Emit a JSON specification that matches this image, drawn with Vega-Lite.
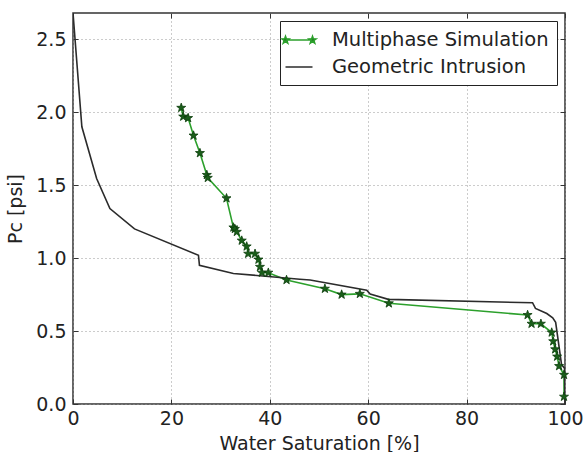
{
  "$schema": "https://vega.github.io/schema/vega-lite/v6.json",
  "autosize": "none",
  "width": 492,
  "height": 391,
  "padding": {"left": 73, "top": 13, "right": 20, "bottom": 48},
  "background": "white",
  "config": {
    "view": {"stroke": "#333", "strokeWidth": 1.5},
    "axis": {
      "labelFont": "DejaVu Sans", "labelFontSize": 19, "labelColor": "#222", "labelFlush": false,
      "titleFont": "DejaVu Sans", "titleFontSize": 19, "titleFontWeight": "normal", "titleColor": "#222",
      "domain": false, "tickColor": "#333", "tickSize": -5, "tickWidth": 1
    }
  },
  "data": {"values": [
    {"s": "Multiphase Simulation", "i": 1, "x": 22.0, "y": 2.03},
    {"s": "Multiphase Simulation", "i": 2, "x": 22.4, "y": 1.97},
    {"s": "Multiphase Simulation", "i": 3, "x": 23.4, "y": 1.96},
    {"s": "Multiphase Simulation", "i": 4, "x": 24.5, "y": 1.84},
    {"s": "Multiphase Simulation", "i": 5, "x": 25.8, "y": 1.72},
    {"s": "Multiphase Simulation", "i": 6, "x": 27.2, "y": 1.57},
    {"s": "Multiphase Simulation", "i": 7, "x": 27.4, "y": 1.55},
    {"s": "Multiphase Simulation", "i": 8, "x": 31.2, "y": 1.41},
    {"s": "Multiphase Simulation", "i": 9, "x": 32.6, "y": 1.21},
    {"s": "Multiphase Simulation", "i": 10, "x": 32.9, "y": 1.20},
    {"s": "Multiphase Simulation", "i": 11, "x": 33.3, "y": 1.18},
    {"s": "Multiphase Simulation", "i": 12, "x": 34.3, "y": 1.12},
    {"s": "Multiphase Simulation", "i": 13, "x": 35.3, "y": 1.08},
    {"s": "Multiphase Simulation", "i": 14, "x": 35.6, "y": 1.03},
    {"s": "Multiphase Simulation", "i": 15, "x": 37.0, "y": 1.03},
    {"s": "Multiphase Simulation", "i": 16, "x": 37.7, "y": 0.99},
    {"s": "Multiphase Simulation", "i": 17, "x": 38.0, "y": 0.94},
    {"s": "Multiphase Simulation", "i": 18, "x": 38.4, "y": 0.90},
    {"s": "Multiphase Simulation", "i": 19, "x": 39.7, "y": 0.90},
    {"s": "Multiphase Simulation", "i": 20, "x": 43.4, "y": 0.85},
    {"s": "Multiphase Simulation", "i": 21, "x": 51.2, "y": 0.79},
    {"s": "Multiphase Simulation", "i": 22, "x": 54.6, "y": 0.75},
    {"s": "Multiphase Simulation", "i": 23, "x": 58.3, "y": 0.755},
    {"s": "Multiphase Simulation", "i": 24, "x": 64.2, "y": 0.69},
    {"s": "Multiphase Simulation", "i": 25, "x": 92.4, "y": 0.61},
    {"s": "Multiphase Simulation", "i": 26, "x": 93.2, "y": 0.55},
    {"s": "Multiphase Simulation", "i": 27, "x": 95.1, "y": 0.55},
    {"s": "Multiphase Simulation", "i": 28, "x": 97.3, "y": 0.49},
    {"s": "Multiphase Simulation", "i": 29, "x": 97.6, "y": 0.43},
    {"s": "Multiphase Simulation", "i": 30, "x": 98.0, "y": 0.375},
    {"s": "Multiphase Simulation", "i": 31, "x": 98.4, "y": 0.325},
    {"s": "Multiphase Simulation", "i": 32, "x": 98.8, "y": 0.26},
    {"s": "Multiphase Simulation", "i": 33, "x": 99.8, "y": 0.20},
    {"s": "Multiphase Simulation", "i": 34, "x": 99.8, "y": 0.05},
    {"s": "Geometric Intrusion", "i": 1, "x": 0.0, "y": 2.68},
    {"s": "Geometric Intrusion", "i": 2, "x": 1.8, "y": 1.90},
    {"s": "Geometric Intrusion", "i": 3, "x": 4.8, "y": 1.545},
    {"s": "Geometric Intrusion", "i": 4, "x": 7.5, "y": 1.34},
    {"s": "Geometric Intrusion", "i": 5, "x": 12.5, "y": 1.20},
    {"s": "Geometric Intrusion", "i": 6, "x": 25.5, "y": 1.02},
    {"s": "Geometric Intrusion", "i": 7, "x": 25.7, "y": 0.95},
    {"s": "Geometric Intrusion", "i": 8, "x": 32.6, "y": 0.895},
    {"s": "Geometric Intrusion", "i": 9, "x": 46.1, "y": 0.855},
    {"s": "Geometric Intrusion", "i": 10, "x": 48.2, "y": 0.85},
    {"s": "Geometric Intrusion", "i": 11, "x": 59.7, "y": 0.78},
    {"s": "Geometric Intrusion", "i": 12, "x": 60.4, "y": 0.753},
    {"s": "Geometric Intrusion", "i": 13, "x": 64.1, "y": 0.717},
    {"s": "Geometric Intrusion", "i": 14, "x": 93.4, "y": 0.694},
    {"s": "Geometric Intrusion", "i": 15, "x": 94.0, "y": 0.655},
    {"s": "Geometric Intrusion", "i": 16, "x": 96.3, "y": 0.62},
    {"s": "Geometric Intrusion", "i": 17, "x": 97.5, "y": 0.59},
    {"s": "Geometric Intrusion", "i": 18, "x": 98.1, "y": 0.56},
    {"s": "Geometric Intrusion", "i": 19, "x": 99.3, "y": 0.27},
    {"s": "Geometric Intrusion", "i": 20, "x": 99.9, "y": 0.245},
    {"s": "Geometric Intrusion", "i": 21, "x": 100.0, "y": 0.0}
  ]},
  "layer": [
    {
      "mark": {"type": "line", "strokeWidth": 1.6, "clip": true},
      "encoding": {
        "x": {"field": "x", "type": "quantitative", "scale": {"domain": [0, 100], "nice": false},
          "axis": {"title": "Water Saturation [%]", "values": [0, 20, 40, 60, 80, 100], "format": "d",
            "grid": true, "gridColor": "#999", "gridDash": [1, 3], "labelPadding": 10, "titlePadding": 6}},
        "y": {"field": "y", "type": "quantitative", "scale": {"domain": [0, 2.68], "nice": false, "zero": false},
          "axis": {"title": "Pc [psi]", "values": [0, 0.5, 1.0, 1.5, 2.0, 2.5], "format": ".1f",
            "grid": true, "gridColor": "#999", "gridDash": [1, 3], "labelPadding": 12, "titlePadding": 10}},
        "order": {"field": "i", "type": "quantitative"},
        "color": {"field": "s", "type": "nominal",
          "scale": {"domain": ["Multiphase Simulation", "Geometric Intrusion"], "range": ["#2ca02c", "#2b2b2b"]},
          "legend": {
            "title": null, "orient": "top-right", "offset": 8,
            "strokeColor": "#222", "fillColor": "white", "padding": 8,
            "labelFont": "DejaVu Sans", "labelFontSize": 19.5, "labelColor": "#222", "labelLimit": 400,
            "symbolSize": 400, "rowPadding": 6, "labelOffset": 22, "symbolStrokeWidth": 1.5, "symbolOffset": 0,
            "encode": {"symbols": {"update": {
              "shape": {"signal": "datum.value === 'Multiphase Simulation' ? 'M-1.35,0L1.35,0M-1.35,-0.38L-1.26,-0.123L-0.989,-0.117L-1.206,0.047L-1.127,0.307L-1.35,0.152L-1.573,0.307L-1.494,0.047L-1.711,-0.117L-1.44,-0.123ZM1.35,-0.38L1.44,-0.123L1.711,-0.117L1.494,0.047L1.573,0.307L1.35,0.152L1.127,0.307L1.206,0.047L0.989,-0.117L1.26,-0.123Z' : 'M-1.35,0L1.35,0'"},
              "fill": {"signal": "datum.value === 'Multiphase Simulation' ? '#1a5e1a' : 'transparent'"}
            }}}
          }}
      }
    },
    {
      "transform": [{"filter": "datum.s === 'Multiphase Simulation'"}],
      "mark": {"type": "point", "filled": true, "size": 90,
        "shape": "M0,-1L0.235,-0.324L0.951,-0.309L0.380,0.124L0.588,0.809L0,0.4L-0.588,0.809L-0.380,0.124L-0.951,-0.309L-0.235,-0.324Z",
        "fill": "#1a5e1a", "stroke": "#0d3d0d", "strokeWidth": 0.8, "opacity": 1},
      "encoding": {
        "x": {"field": "x", "type": "quantitative",
          "axis": {"orient": "top", "labels": false, "grid": false, "title": null, "values": [0, 20, 40, 60, 80, 100]}},
        "y": {"field": "y", "type": "quantitative",
          "axis": {"orient": "right", "labels": false, "grid": false, "title": null, "values": [0, 0.5, 1.0, 1.5, 2.0, 2.5]}}
      }
    }
  ],
  "resolve": {"axis": {"x": "independent", "y": "independent"}}
}
